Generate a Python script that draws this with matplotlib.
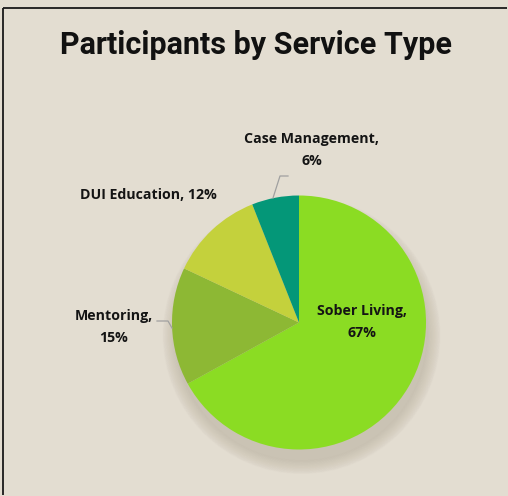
import matplotlib.pyplot as plt
from matplotlib.patches import Circle

# data
services = ['Sober Living', 'Mentoring', 'DUI Education', 'Case Management']
shares = [67, 15, 12, 6]
colors = ['#8BDC23', '#8DB834', '#C4D13C', '#049778']

W, H = 508, 496
fig = plt.figure(figsize=(W / 100, H / 100), dpi=100)
fig.patch.set_facecolor('#E3DDD1')
fig.patch.set_linewidth(0)

# chart frame (only top and left edge are visible)
top = 1 - 7.5 / H
left = 2.5 / W
fig.add_artist(plt.Line2D([left, 507 / W], [top, top], transform=fig.transFigure,
                          color='#1a1a1a', linewidth=1.3, solid_capstyle='butt'))
fig.add_artist(plt.Line2D([left, left], [1 / H, top], transform=fig.transFigure,
                          color='#1a1a1a', linewidth=1.3, solid_capstyle='butt'))

fig.text(256 / W, 1 - 45 / H, 'Participants by Service Type', ha='center', va='center',
         fontsize=22, fontweight='bold', family='Roboto', color='#111111')

cx, cy, r = 299, 322.5, 127
ax = fig.add_axes([(cx - r) / W, 1 - (cy + r) / H, 2 * r / W, 2 * r / H])
ax.axis('off')

# soft shadow under the pie
for i in range(12):
    s = 0.98 + 0.009 * (12 - i)
    ax.add_patch(Circle((0.02, -0.1), s, color='#9a8f7c', alpha=0.028, zorder=0, clip_on=False))

ax.pie(shares, colors=colors, startangle=90, counterclock=False, radius=1,
       wedgeprops=dict(linewidth=0), frame=False)
ax.set_xlim(-1, 1)
ax.set_ylim(-1, 1)

lab = dict(fontsize=10.2, fontweight='bold', family='Open Sans', color='#141414', ha='center', va='center')
fig.text(312 / W, 1 - 139 / H, f'{services[3]},', **lab)
fig.text(312 / W, 1 - 161 / H, f'{shares[3]}%', **lab)
fig.text(148 / W, 1 - 195 / H, f'{services[2]}, {shares[2]}%', **lab)
fig.text(114 / W, 1 - 316 / H, f'{services[1]},', **lab)
fig.text(114 / W, 1 - 338 / H, f'{shares[1]}%', **lab)
fig.text(362 / W, 1 - 311 / H, f'{services[0]},', **lab)
fig.text(362 / W, 1 - 333 / H, f'{shares[0]}%', **lab)

# leader lines
fig.add_artist(plt.Line2D([288 / W, 280 / W, 273 / W], [1 - 176 / H, 1 - 176 / H, 1 - 198 / H],
                          transform=fig.transFigure, color='#a0a0a0', linewidth=0.9))
fig.add_artist(plt.Line2D([157 / W, 168 / W, 172 / W], [1 - 321 / H, 1 - 321 / H, 1 - 328 / H],
                          transform=fig.transFigure, color='#a0a0a0', linewidth=0.9))

fig.savefig('out.png', dpi=100, facecolor=fig.get_facecolor())
